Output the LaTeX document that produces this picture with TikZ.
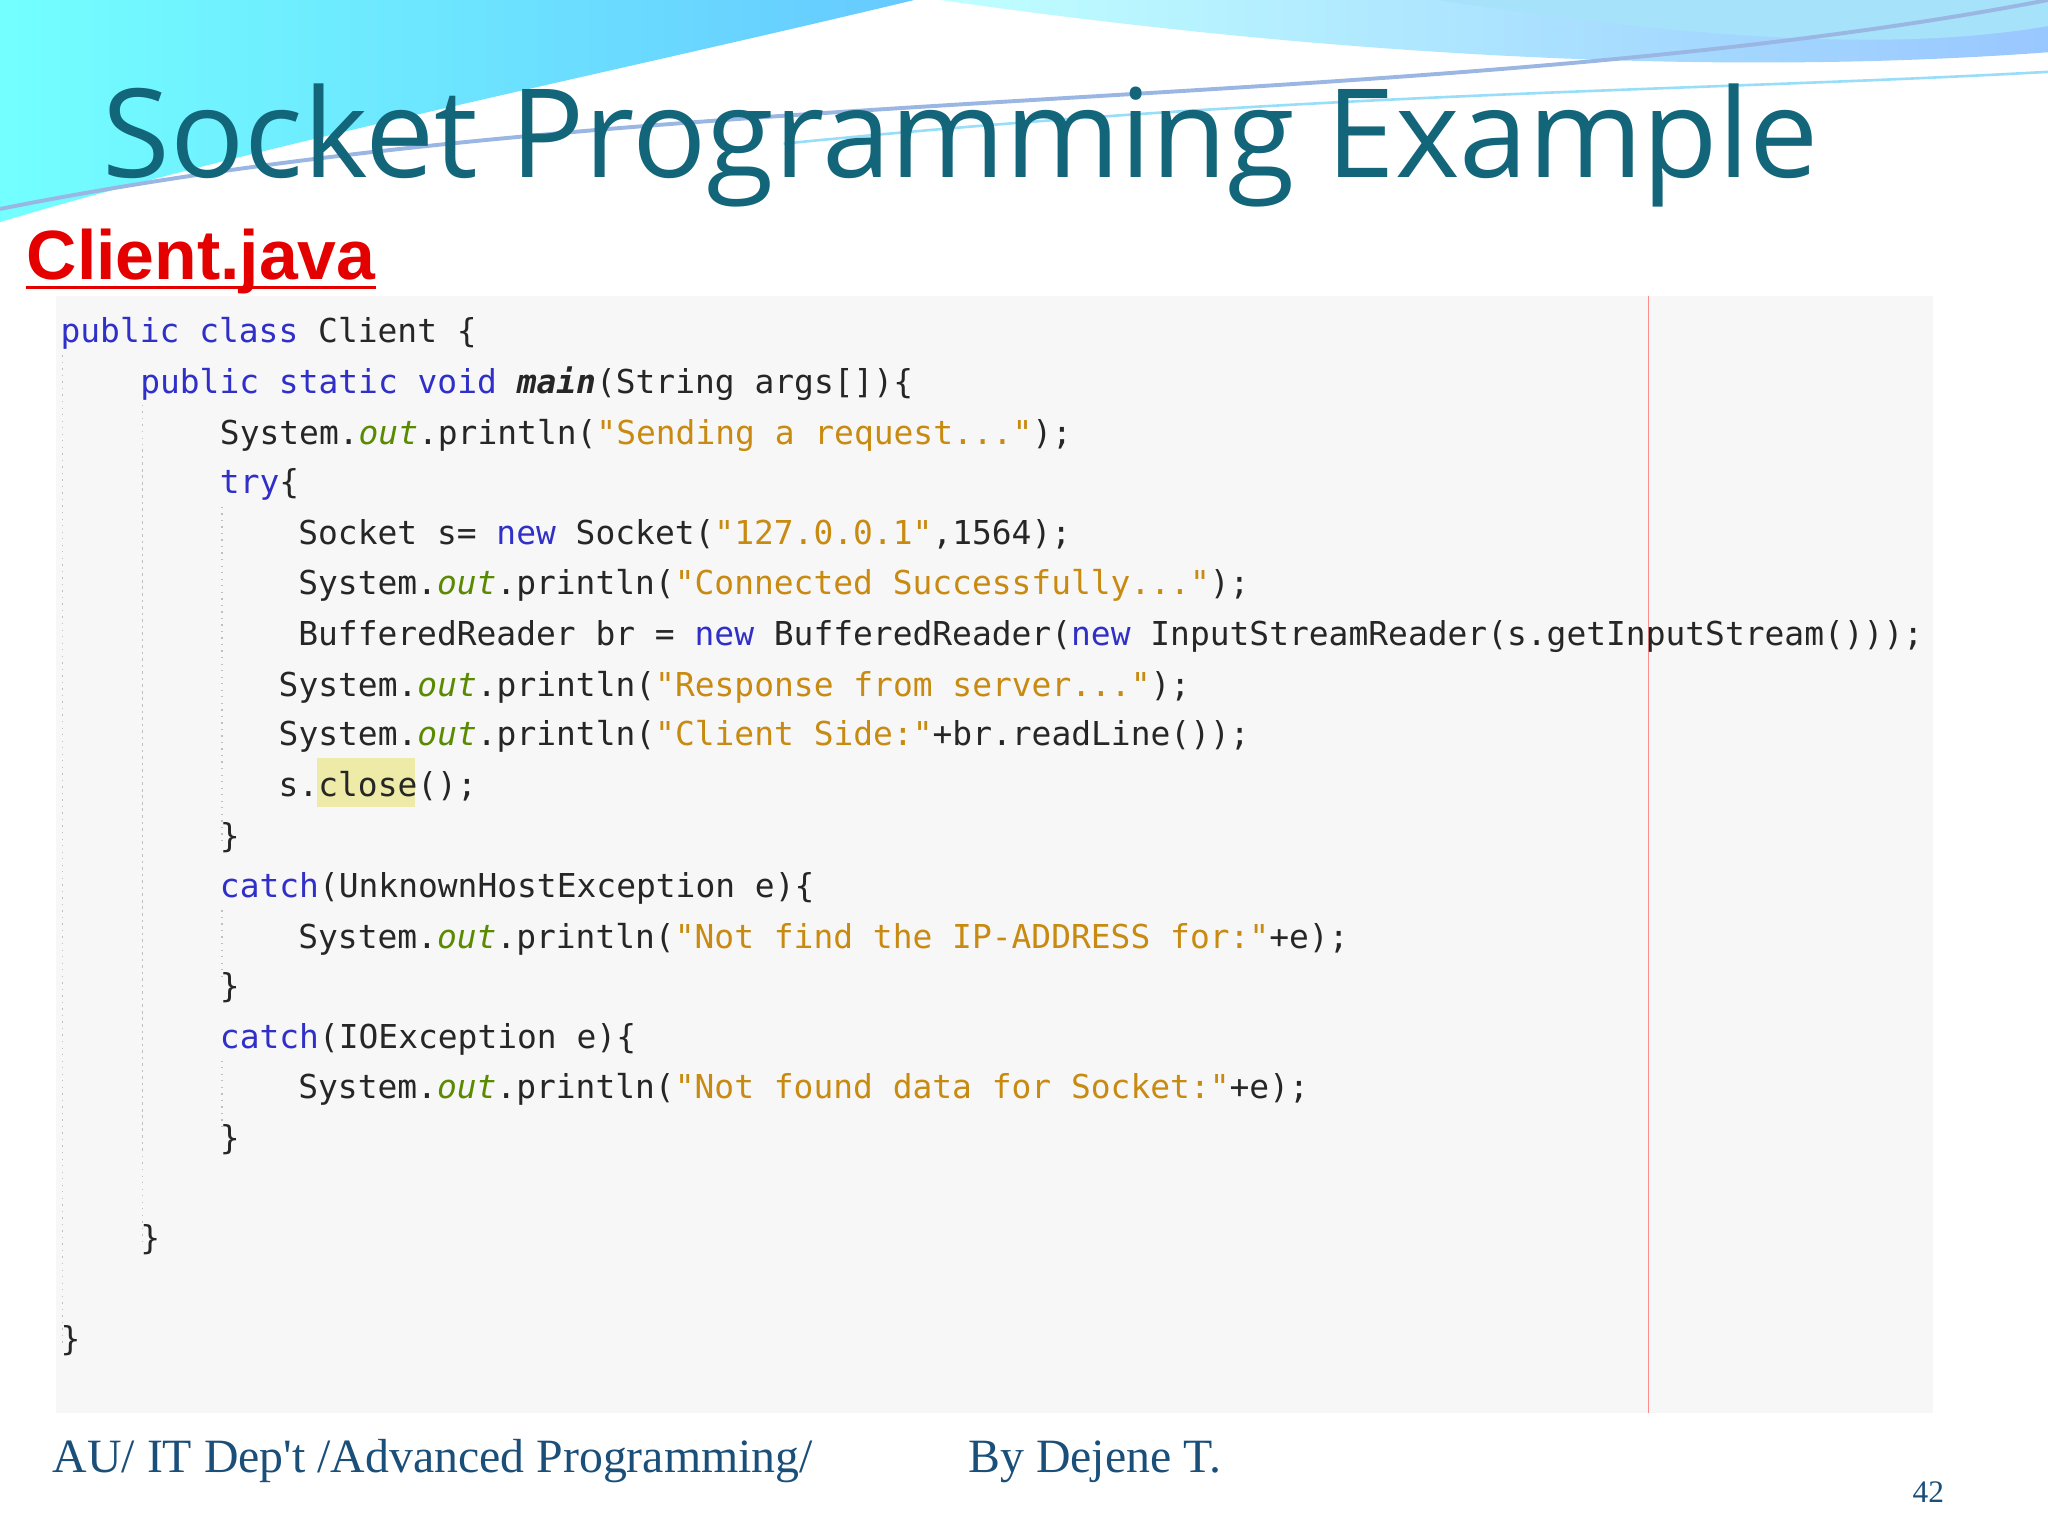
\documentclass[tikz,border=0pt]{standalone}
\usepackage{fontspec}
\setmainfont{Liberation Serif}
\setmonofont{DejaVu Sans Mono}
\newfontfamily\titlefont{Open Sans}
\newfontfamily\arialfont{Liberation Sans}
\definecolor{kwc}{HTML}{3030C8}
\definecolor{strc}{HTML}{C88A10}
\definecolor{outc}{HTML}{5A8A00}
\definecolor{titc}{HTML}{13657A}
\definecolor{footc}{HTML}{1A4F7A}
\newcommand{\kw}[1]{\textcolor{kwc}{#1}}
\newcommand{\sq}[1]{\textcolor{strc}{#1}}
\newcommand{\fo}{\textcolor{outc}{\itshape out}}
\begin{document}
\begin{tikzpicture}[x=0.5pt,y=-0.5pt,
  code/.style={anchor=base west,inner sep=0pt,font=\ttfamily\fontsize{12.6}{14}\selectfont,text=black!85},
  foot/.style={anchor=base west,inner sep=0pt,text=footc,font=\fontsize{18.3}{20}\selectfont}]
\useasboundingbox (0,0) rectangle (1568,1176);
\fill[white] (0,0) rectangle (1568,1176);
% top wave
\shade[left color=cyan!55!white,right color=blue!35!cyan!60] (0,0) -- (700,0) .. controls (450,60) and (200,110) .. (0,170) -- cycle;
\shade[left color=cyan!25!white,right color=cyan!45!blue!40] (720,0) .. controls (1000,40) and (1300,60) .. (1568,40) -- (1568,0) -- cycle;
\fill[cyan!35!white] (1100,0) .. controls (1300,30) and (1450,40) .. (1568,20) -- (1568,0) -- cycle;
\draw[cyan!50!blue!40,line width=1.5pt] (0,160) .. controls (500,60) and (1100,90) .. (1568,0);
\draw[cyan!40,line width=1pt] (600,110) .. controls (1000,70) and (1300,70) .. (1568,55);
% title
\node[anchor=base west,inner sep=0pt,text=titc,font=\titlefont\fontsize{47.2}{50}\selectfont] (title) at (78,136) {Socket Programming Example};
\node[anchor=base west,inner sep=0pt,text=red!90!black,font=\arialfont\bfseries\fontsize{26.7}{30}\selectfont] (cj) at (20,214) {Client.java};
\draw[red!90!black,line width=1.4pt] ([yshift=-3pt]cj.base west) -- ([yshift=-3pt]cj.base east);
% code panel
\fill[black!3] (43,227) rectangle (1480,1082);
\draw[red!45,line width=0.6pt] (1262,227) -- (1262,1082);
\foreach \x/\a/\b in {46/272/1030,107/310/955,168/388/645,168/697/750,168/812/865,107/344/880}{
  \draw[black!25,dotted,line width=0.5pt] (\x+2,\a) -- (\x+2,\b);}
\fill[yellow!50!olive!30] (243,580) rectangle (318,618);
\node[code] (l1) at (46,262) {\kw{public class} Client \{};
\node[code] (l2) at (107,301) {\kw{public static void} \textbf{\itshape main}(String args[])\{};
\node[code] (l3) at (168,340) {System.\fo.println(\sq{"Sending a request..."});};
\node[code] (l4) at (168,378) {\kw{try}\{};
\node[code] (l5) at (228,417) {Socket s= \kw{new} Socket(\sq{"127.0.0.1"},1564);};
\node[code] (l6) at (228,455) {System.\fo.println(\sq{"Connected Successfully..."});};
\node[code] (l7) at (228,494) {BufferedReader br = \kw{new} BufferedReader(\kw{new} InputStreamReader(s.getInputStream()));};
\node[code] (l8) at (213,533) {System.\fo.println(\sq{"Response from server..."});};
\node[code] (l9) at (213,571) {System.\fo.println(\sq{"Client Side:"}+br.readLine());};
\node[code] (l10) at (213,610) {s.close();};
\node[code] (l11) at (168,649) {\}};
\node[code] (l12) at (168,687) {\kw{catch}(UnknownHostException e)\{};
\node[code] (l13) at (228,726) {System.\fo.println(\sq{"Not find the IP-ADDRESS for:"}+e);};
\node[code] (l14) at (168,764) {\}};
\node[code] (l15) at (168,803) {\kw{catch}(IOException e)\{};
\node[code] (l16) at (228,841) {System.\fo.println(\sq{"Not found data for Socket:"}+e);};
\node[code] (l17) at (168,880) {\}};
\node[code] (l18) at (107,957) {\}};
\node[code] (l19) at (46,1034) {\}};
% footer
\node[foot] (f1) at (40,1127) {AU/ IT Dep\textquotesingle t /Advanced Programming/};
\node[foot] (f2) at (741,1127) {By Dejene T.};
\node[foot,font=\fontsize{12}{14}\selectfont] (pg) at (1464,1150) {42};
\end{tikzpicture}
\end{document}
